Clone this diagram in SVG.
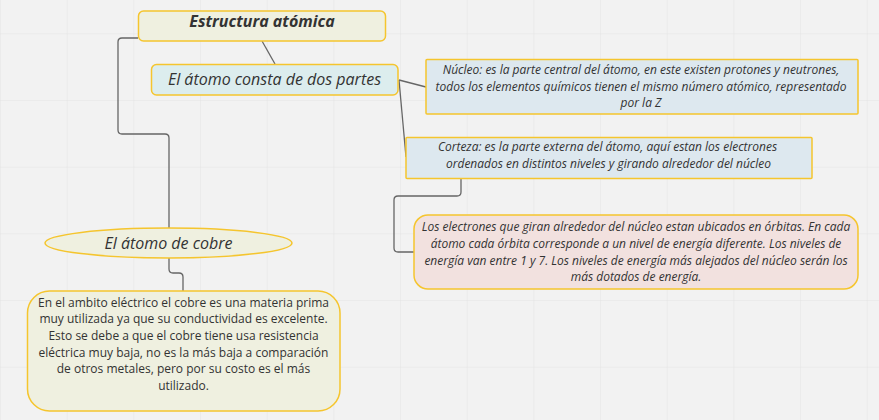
<svg xmlns="http://www.w3.org/2000/svg" width="879" height="420" viewBox="0 0 879 420">
<defs>
<pattern id="grid" x="0" y="33.33" width="66.67" height="66.67" patternUnits="userSpaceOnUse">
<path d="M0 0H66.67M0 0V66.67" fill="none" stroke="#e4e4e4" stroke-width="1"/>
</pattern>
<style>
.t{font-family:"Open Sans","Noto Sans",sans-serif;fill:#333;text-anchor:middle}
.i{font-style:italic}
.box{stroke:#f5c52e;stroke-width:1.5}
.olive{fill:#eff0e0}
.cyan{fill:#dcedee}
.blue{fill:#dde8ef}
.pink{fill:#f2e1df}
.c{fill:none;stroke:#666;stroke-width:1.3}
</style>
</defs>
<rect width="879" height="420" fill="#f2f2f2"/>
<rect width="879" height="420" fill="url(#grid)"/>
<g id="connectors">
<path class="c" d="M262 41L275 64"/>
<path class="c" d="M138 38H122Q118 38 118 42V130Q118 134 122 134H165Q169 134 169 138V228"/>
<path class="c" d="M399 80L426 87"/>
<path class="c" d="M399 80L406 157"/>
<path class="c" d="M169 258V269Q169 273 173 273H179Q183 273 183 277V291"/>
<path class="c" d="M461 178V192Q461 196 457 196H398Q394 196 394 200V248Q394 252 398 252H414"/>
</g>
<g id="n-title">
<rect class="box olive" x="138.5" y="11" width="247" height="30" rx="5"/>
<text class="t i" x="262" y="27" font-size="16" font-weight="bold">Estructura atómica</text>
</g>
<g id="n-partes">
<rect class="box cyan" x="151.5" y="64.5" width="246.5" height="30.5" rx="5"/>
<text class="t i" x="274.5" y="85" font-size="16">El átomo consta de dos partes</text>
</g>
<g id="n-nucleo">
<rect class="box blue" x="426" y="59.5" width="432" height="54.5" rx="1"/>
<text class="t i" font-size="12"><tspan x="641" y="73.5">Núcleo: es la parte central del átomo, en este existen protones y neutrones,</tspan><tspan x="641" y="90.5">todos los elementos químicos tienen el mismo número atómico, representado</tspan><tspan x="641" y="107">por la Z</tspan></text>
</g>
<g id="n-corteza">
<rect class="box blue" x="406" y="137.5" width="406" height="41" rx="1"/>
<text class="t i" font-size="12"><tspan x="607.5" y="151">Corteza: es la parte externa del átomo, aquí estan los electrones</tspan><tspan x="608.5" y="167.5">ordenados en distintos niveles y girando alrededor del núcleo</tspan></text>
</g>
<g id="n-electrones">
<rect class="box pink" x="414" y="215" width="444" height="74" rx="14"/>
<text class="t i" font-size="12"><tspan x="636" y="231">Los electrones que giran alrededor del núcleo estan ubicados en órbitas. En cada</tspan><tspan x="636" y="247.5">átomo cada órbita corresponde a un nivel de energía diferente. Los niveles de</tspan><tspan x="636" y="264.5">energía van entre 1 y 7. Los niveles de energía más alejados del núcleo serán los</tspan><tspan x="636" y="281">más dotados de energía.</tspan></text>
</g>
<g id="n-cobre">
<ellipse class="box olive" cx="168.5" cy="243" rx="123.5" ry="15"/>
<text class="t i" x="168.5" y="249" font-size="16">El átomo de cobre</text>
</g>
<g id="n-cobre-desc">
<rect class="box olive" x="27.5" y="291" width="312.5" height="120" rx="22"/>
<text class="t" font-size="12"><tspan x="183.5" y="306.5">En el ambito eléctrico el cobre es una materia prima</tspan><tspan x="183.5" y="323">muy utilizada ya que su conductividad es excelente.</tspan><tspan x="183.5" y="340">Esto se debe a que el cobre tiene usa resistencia</tspan><tspan x="183.5" y="356.5">eléctrica muy baja, no es la más baja a comparación</tspan><tspan x="183.5" y="373">de otros metales, pero por su costo es el más</tspan><tspan x="183.5" y="390">utilizado.</tspan></text>
</g>
</svg>
